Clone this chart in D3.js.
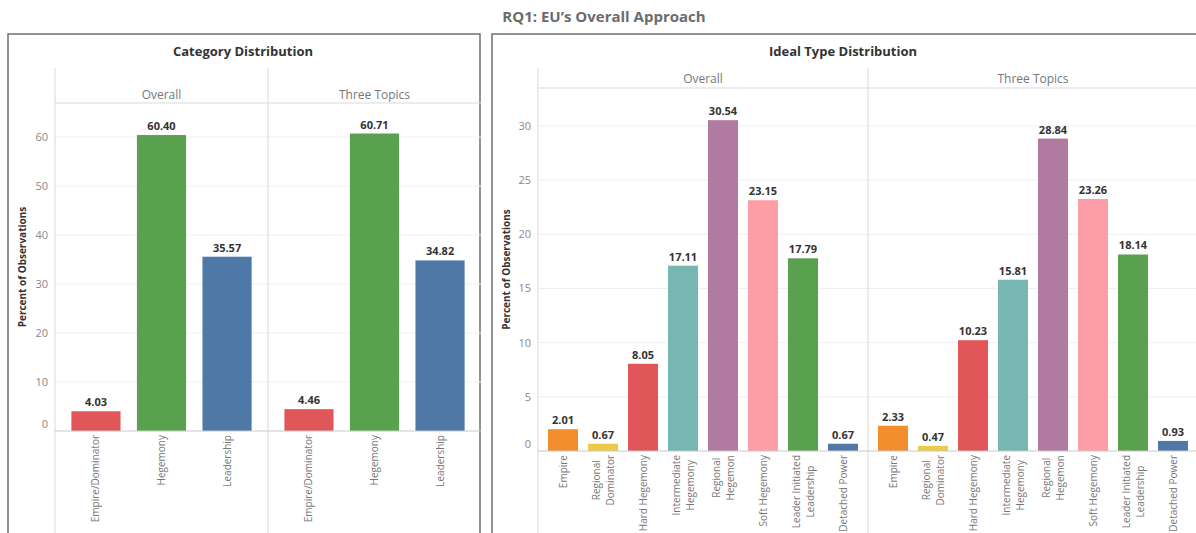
<!DOCTYPE html>
<html>
<head>
<meta charset="utf-8">
<script src="https://cdn.jsdelivr.net/npm/d3@7"></script>
<style>
	body { margin: 0; background: #fff; }
	svg { display: block; }
	text { font-family: "Open Sans", sans-serif; }
</style>
</head>
<body>
<svg id="chart" width="1196" height="533"></svg>
<script>
// data
var facets = ["Overall", "Three Topics"];

var categoryNames = ["Empire/Dominator", "Hegemony", "Leadership"];
var categoryOverall = [4.03, 60.40, 35.57];
var categoryThreeTopics = [4.46, 60.71, 34.82];
var categoryTicks = [0, 10, 20, 30, 40, 50, 60];

var idealNames = ["Empire", "Regional\nDominator", "Hard Hegemony", "Intermediate\nHegemony",
	"Regional\nHegemon", "Soft Hegemony", "Leader Initiated\nLeadership", "Detached Power"];
var idealOverall = [2.01, 0.67, 8.05, 17.11, 30.54, 23.15, 17.79, 0.67];
var idealThreeTopics = [2.33, 0.47, 10.23, 15.81, 28.84, 23.26, 18.14, 0.93];
var idealTicks = [0, 5, 10, 15, 20, 25, 30];

var categoryColors = ["#e15759", "#59a14f", "#4e79a7"];
var idealColors = ["#f28e2b", "#edc948", "#e15759", "#76b7b2", "#b07aa1", "#ff9da7", "#59a14f", "#4e79a7"];

var svg = d3.select("#chart");

// Main title
svg.append("text")
	.attr("x", 604)
	.attr("y", 22)
	.attr("text-anchor", "middle")
	.attr("font-size", 15)
	.attr("font-weight", "bold")
	.attr("fill", "#6b6b6b")
	.text("RQ1: EU\u2019s Overall Approach");

// Draw one framed panel with two facets
function drawPanel(p) {
	var g = svg.append("g");

	g.append("rect")
		.attr("x", p.boxLeft)
		.attr("y", 34)
		.attr("width", p.boxRight - p.boxLeft)
		.attr("height", 560)
		.attr("fill", "none")
		.attr("stroke", "#6f6f6f")
		.attr("stroke-width", 1.5);

	g.append("text")
		.attr("x", p.titleX)
		.attr("y", 56)
		.attr("text-anchor", "middle")
		.attr("font-size", 13)
		.attr("font-weight", "bold")
		.attr("fill", "#333")
		.text(p.title);

	var y = d3.scaleLinear()
		.domain([0, p.yMax])
		.range([p.baseline, p.headerBottom]);

	var facetX = d3.scaleBand()
		.domain(facets)
		.range([p.plotLeft, p.plotLeft + 2 * p.facetWidth]);

	// Horizontal gridlines
	g.selectAll(".grid")
		.data(p.ticks.slice(1))
	  .enter().append("line")
		.attr("x1", p.plotLeft)
		.attr("x2", p.plotLeft + 2 * p.facetWidth)
		.attr("y1", function(d) { return y(d); })
		.attr("y2", function(d) { return y(d); })
		.attr("stroke", "#efefef");

	// Header line and facet dividers
	g.append("line")
		.attr("x1", p.plotLeft).attr("x2", p.plotLeft + 2 * p.facetWidth)
		.attr("y1", p.headerBottom).attr("y2", p.headerBottom)
		.attr("stroke", "#d9d9d9");

	g.selectAll(".divider")
		.data(facets)
	  .enter().append("line")
		.attr("x1", function(d) { return facetX(d); })
		.attr("x2", function(d) { return facetX(d); })
		.attr("y1", 68)
		.attr("y2", 533)
		.attr("stroke", "#d9d9d9");

	g.selectAll(".facetlabel")
		.data(facets)
	  .enter().append("text")
		.attr("x", function(d) { return facetX(d) + p.facetWidth / 2; })
		.attr("y", p.headerText)
		.attr("text-anchor", "middle")
		.attr("font-size", 12)
		.attr("fill", "#777")
		.text(function(d) { return d; });

	// Y axis tick labels
	g.selectAll(".ytick")
		.data(p.ticks)
	  .enter().append("text")
		.attr("x", p.plotLeft - 7)
		.attr("y", function(d) { return y(d); })
		.attr("dy", function(d) { return d === 0 ? "-0.25em" : "0.35em"; })
		.attr("text-anchor", "end")
		.attr("font-size", 11)
		.attr("fill", "#888")
		.text(function(d) { return d; });

	g.append("text")
		.attr("transform", "translate(" + p.axisTitleX + "," + ((p.baseline + p.headerBottom) / 2) + ") rotate(-90)")
		.attr("text-anchor", "middle")
		.attr("font-size", 10)
		.attr("font-weight", "bold")
		.attr("fill", "#333")
		.text("Percent of Observations");

	var seriesList = [p.overall, p.three];

	facets.forEach(function(f, fi) {
		var x = d3.scaleBand()
			.domain(p.names)
			.range([facetX(f), facetX(f) + p.facetWidth])
			.padding(0.25);

		var rows = p.names.map(function(n, i) {
			return {name: n, value: seriesList[fi][i], color: p.colors[i]};
		});

		var fg = g.append("g");

		fg.selectAll(".bar")
			.data(rows)
		  .enter().append("rect")
			.attr("x", function(d) { return x(d.name); })
			.attr("width", x.bandwidth())
			.attr("y", function(d) { return y(d.value); })
			.attr("height", function(d) { return y(0) - y(d.value); })
			.attr("fill", function(d) { return d.color; });

		fg.selectAll(".val")
			.data(rows)
		  .enter().append("text")
			.attr("x", function(d) { return x(d.name) + x.bandwidth() / 2; })
			.attr("y", function(d) { return y(d.value) - 5; })
			.attr("text-anchor", "middle")
			.attr("font-size", 11)
			.attr("font-weight", "bold")
			.attr("fill", "#333")
			.text(function(d) { return d.value.toFixed(2); });

		// baseline
		fg.append("line")
			.attr("x1", facetX(f)).attr("x2", facetX(f) + p.facetWidth)
			.attr("y1", y(0)).attr("y2", y(0))
			.attr("stroke", "#c8c8c8");

		// Rotated category labels, lines centred, block hanging below the baseline
		rows.forEach(function(d) {
			var lines = d.name.split("\n");
			var lg = fg.append("g")
				.attr("transform", "translate(" + (x(d.name) + x.bandwidth() / 2) + "," + (y(0) + 4) + ") rotate(-90)");
			var texts = lg.selectAll("text")
				.data(lines)
			  .enter().append("text")
				.attr("y", function(l, i) { return (i - (lines.length - 1) / 2) * 14; })
				.attr("dy", "0.35em")
				.attr("font-size", 10)
				.attr("fill", "#777")
				.text(function(l) { return l; });
			var maxLen = 0;
			texts.each(function() { maxLen = Math.max(maxLen, this.getComputedTextLength()); });
			texts.attr("x", -maxLen / 2).attr("text-anchor", "middle");
		});
	});
}

drawPanel({
	title: "Category Distribution", titleX: 243,
	boxLeft: 8, boxRight: 480,
	plotLeft: 55, facetWidth: 213,
	headerBottom: 103, headerText: 99,
	baseline: 431, yMax: 66.94,
	axisTitleX: 26,
	ticks: categoryTicks, names: categoryNames, colors: categoryColors,
	overall: categoryOverall, three: categoryThreeTopics
});

drawPanel({
	title: "Ideal Type Distribution", titleX: 843,
	boxLeft: 492, boxRight: 1205,
	plotLeft: 538, facetWidth: 330,
	headerBottom: 88, headerText: 83,
	baseline: 451, yMax: 33.51,
	axisTitleX: 510,
	ticks: idealTicks, names: idealNames, colors: idealColors,
	overall: idealOverall, three: idealThreeTopics
});
</script>
</body>
</html>
